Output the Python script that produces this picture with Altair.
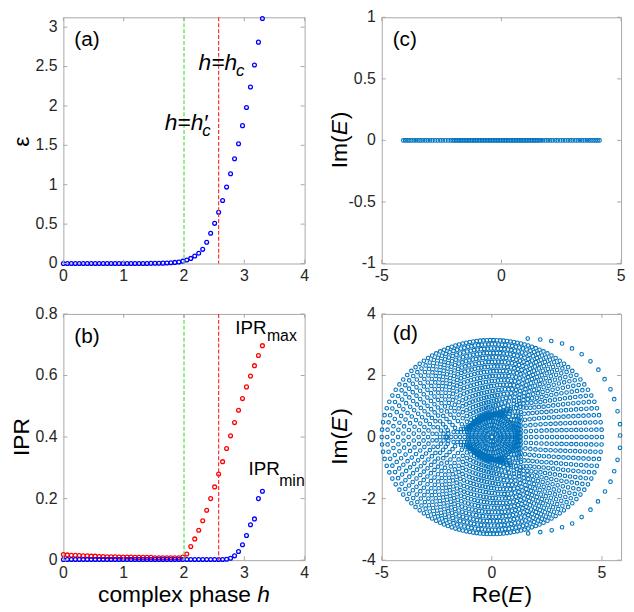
import altair as alt
import numpy as np
import pandas as pd

FONT = "Liberation Sans"
GRAY = "#a8a8a8"
LABEL = "#262626"
BLUE = "#0000ff"
RED = "#ff0000"
MBLUE = "#0072bd"
GREEN_LINE = "#55dd44"
RED_LINE = "#ff3030"

# ---------------- data ----------------
h = [0.0, 0.066, 0.132, 0.198, 0.264, 0.33, 0.396, 0.462, 0.528, 0.594,
     0.66, 0.726, 0.792, 0.858, 0.924, 0.99, 1.056, 1.122, 1.188, 1.254,
     1.32, 1.386, 1.452, 1.518, 1.584, 1.65, 1.716, 1.782, 1.848, 1.914,
     1.98, 2.046, 2.112, 2.178, 2.244, 2.31, 2.376, 2.442, 2.508, 2.574,
     2.64, 2.706, 2.772, 2.838, 2.904, 2.97, 3.036, 3.102, 3.168, 3.234, 3.3]

eps = [0.0, 0.0, 0.0, 0.0, 0.0, 0.0, 0.0, 0.0, 0.0, 0.0,
       0.0, 0.0, 0.0, 0.0, 0.0, 0.0, 0.0, 0.0, 0.0, 0.0,
       0.0, 0.001, 0.002, 0.003, 0.004, 0.005, 0.007, 0.01, 0.014, 0.02,
       0.03, 0.045, 0.065, 0.095, 0.13, 0.18, 0.27, 0.385, 0.51, 0.65,
       0.80, 0.97, 1.14, 1.33, 1.52, 1.75, 1.98, 2.24, 2.52, 2.81, 3.11]

ipr_max = [0.018, 0.017, 0.016, 0.016, 0.015, 0.014, 0.014, 0.013, 0.013, 0.012,
           0.012, 0.011, 0.011, 0.011, 0.010, 0.010, 0.010, 0.010, 0.009, 0.009,
           0.009, 0.009, 0.009, 0.008, 0.008, 0.008, 0.008, 0.008, 0.008, 0.008,
           0.010, 0.020, 0.044, 0.069, 0.097, 0.128, 0.162, 0.200, 0.238, 0.280,
           0.320, 0.363, 0.404, 0.447, 0.487, 0.525, 0.563, 0.598, 0.632, 0.665, 0.697]

ipr_min = [0.002, 0.002, 0.002, 0.002, 0.002, 0.002, 0.002, 0.002, 0.002, 0.002,
           0.002, 0.002, 0.002, 0.002, 0.002, 0.002, 0.002, 0.002, 0.002, 0.002,
           0.002, 0.002, 0.002, 0.002, 0.002, 0.002, 0.002, 0.002, 0.002, 0.002,
           0.002, 0.002, 0.002, 0.002, 0.002, 0.002, 0.002, 0.002, 0.002, 0.002,
           0.002, 0.003, 0.006, 0.014, 0.028, 0.050, 0.080, 0.115, 0.134, 0.200, 0.224]

h_c_prime = [2.0]
h_c = [2.574]

# panel (c): real spectrum (Im = 0)
re_c = [-4.10, -4.02, -3.93, -3.85, -3.76, -3.66, -3.57, -3.47, -3.38, -3.28,
        -3.18, -3.08, -2.98, -2.88, -2.77, -2.66, -2.55, -2.45, -2.34, -2.23,
        -2.12, -2.04, -1.97, -1.90, -1.83, -1.76, -1.70, -1.63, -1.56, -1.49,
        -1.42, -1.36, -1.29, -1.22, -1.15, -1.08, -1.02, -0.95, -0.88, -0.81,
        -0.75, -0.68, -0.61, -0.54, -0.48, -0.41, -0.34, -0.27, -0.20, -0.14,
        -0.07, 0.00, 0.07, 0.14, 0.20, 0.27, 0.34, 0.41, 0.48, 0.54,
        0.61, 0.68, 0.75, 0.81, 0.88, 0.95, 1.02, 1.08, 1.15, 1.22,
        1.29, 1.36, 1.42, 1.49, 1.56, 1.65, 1.74, 1.84, 1.94, 2.04,
        2.14, 2.25, 2.35, 2.46, 2.57, 2.67, 2.78, 2.88, 2.98, 3.09,
        3.19, 3.29, 3.38, 3.48, 3.58, 3.67, 3.76, 3.85, 3.94, 4.02, 4.10]
im_c = [0.0] * len(re_c)

# panel (d): complex spectrum, described as rings
core_rx, core_ry = 1.04, 0.72            # inner circular core
tri_vx = [-2.24, 1.31, 1.31]             # triangular boundary vertices
tri_vy = [0.0, 1.09, -1.09]
ell_rx, ell_ry = 5.0, 3.15               # outer elliptic boundary
core_frac = [0.0, 0.17, 0.36, 0.54, 0.71, 0.88, 1.03]
core_n = [1, 10, 22, 32, 42, 52, 62]
tri_frac = [0.2, 0.4, 0.6, 0.8, 1.0]
tri_n = [44, 50, 56, 62, 68]
out_frac = [0.0625, 0.125, 0.1875, 0.25, 0.3125, 0.375, 0.4375, 0.5,
            0.5625, 0.625, 0.6875, 0.75, 0.8125, 0.875, 0.9375, 1.0]
out_n = [53, 58, 63, 68, 73, 79, 84, 89, 94, 99, 104, 109, 114, 119, 124, 130]
arc_x = [1.63, 2.20, 2.70, 3.19, 3.64, 4.08, 4.48, 4.84, 5.12, 5.39, 5.56, 5.71, 5.82, 5.83,
         5.82, 5.71, 5.56, 5.39, 5.14, 4.82, 4.48, 4.08, 3.65, 3.19, 2.72, 2.20, 1.65]
arc_y = [3.20, 3.17, 3.12, 3.04, 2.88, 2.69, 2.46, 2.19, 1.88, 1.55, 1.23, 0.84, 0.42, 0.05,
         -0.35, -0.74, -1.11, -1.45, -1.77, -2.09, -2.36, -2.60, -2.81, -2.93, -3.03, -3.09, -3.13]

# tick values
xt_ab = [0, 1, 2, 3, 4]
yt_a = [0, 0.5, 1, 1.5, 2, 2.5, 3]
yt_b = [0, 0.2, 0.4, 0.6, 0.8]
xt_cd = [-5, 0, 5]
yt_c = [-1, -0.5, 0, 0.5, 1]
yt_d = [-4, -2, 0, 2, 4]


# ---------------- build ring points for (d) ----------------
def ell_r(th, a, b):
    return 1.0 / np.sqrt((np.cos(th) / a) ** 2 + (np.sin(th) / b) ** 2)


def tri_r(th):
    d0, d1 = np.cos(th), np.sin(th)
    best = np.full(len(th), np.inf)
    for k in range(3):
        p0, p1 = tri_vx[k], tri_vy[k]
        e0 = tri_vx[(k + 1) % 3] - p0
        e1 = tri_vy[(k + 1) % 3] - p1
        den = -d0 * e1 + d1 * e0
        with np.errstate(divide="ignore", invalid="ignore"):
            t = (-p0 * e1 + e0 * p1) / den
            s = (d0 * p1 - d1 * p0) / den
        ok = (t > 0) & (s >= -1e-9) & (s <= 1 + 1e-9)
        best = np.where(ok & (t < best), t, best)
    return best


TH = np.linspace(0, 2 * np.pi, 2048, endpoint=False)
RT = tri_r(TH)


def tri_smooth(th, sigma):
    if sigma <= 0:
        return np.interp(th, TH, RT, period=2 * np.pi)
    d = np.minimum(TH, 2 * np.pi - TH)
    k = np.exp(-0.5 * (d / sigma) ** 2)
    k /= k.sum()
    rs = np.real(np.fft.ifft(np.fft.fft(RT) * np.fft.fft(k)))
    return np.interp(th, TH, rs, period=2 * np.pi)


dxs, dys = [], []
for f, n in zip(core_frac, core_n):
    th = np.linspace(0, 2 * np.pi, n, endpoint=False)
    dxs += list(f * core_rx * np.cos(th))
    dys += list(f * core_ry * np.sin(th))
for u, n in zip(tri_frac, tri_n):
    th = np.linspace(0, 2 * np.pi, n, endpoint=False)
    r = (1 - u) * ell_r(th, core_rx, core_ry) + u * tri_smooth(th, 0.04)
    dxs += list(r * np.cos(th))
    dys += list(r * np.sin(th))
for t, n in zip(out_frac, out_n):
    th = np.linspace(0, 2 * np.pi, n, endpoint=False)
    r = (1 - t) * tri_smooth(th, 0.04 + 0.9 * t) + t * ell_r(th, ell_rx, ell_ry)
    dxs += list(r * np.cos(th))
    dys += list(r * np.sin(th))
dxs += arc_x
dys += arc_y

# ---------------- helpers ----------------
WA, HA = 244, 249
WC = 242

CW = {'I': 278, 'm': 833, '(': 333, ')': 333, 'E': 667, 'R': 722, 'e': 556, 'P': 667,
      'c': 500, 'o': 556, 'p': 556, 'l': 222, 'x': 500, ' ': 278, 'h': 556, 'a': 556, 's': 500}


def tw(s, size):
    return sum(CW.get(ch, 556) for ch in s) / 1000.0 * size


TSIZE = 23


def ytitle(pieces, H, off=30, size=TSIZE):
    total = sum(tw(t, size) for t, _ in pieces)
    pos = H / 2 + total / 2
    out = []
    for t, it in pieces:
        out.append(
            alt.Chart(pd.DataFrame({"t": [t]})).mark_text(
                angle=270, align="left", baseline="bottom", font=FONT, fontSize=size,
                fontStyle="italic" if it else "normal", color="black"
            ).encode(text="t:N", x=alt.value(-off), y=alt.value(pos))
        )
        pos -= tw(t, size) + (1 if it else 0)
    return out


def xtitle(pieces, W, H, off=24, size=TSIZE):
    total = sum(tw(t, size) for t, _ in pieces)
    pos = W / 2 - total / 2
    out = []
    for t, it in pieces:
        out.append(
            alt.Chart(pd.DataFrame({"t": [t]})).mark_text(
                align="left", baseline="top", font=FONT, fontSize=size,
                fontStyle="italic" if it else "normal", color="black"
            ).encode(text="t:N", x=alt.value(pos), y=alt.value(H + off))
        )
        pos += tw(t, size) + (1 if it else 0)
    return out


def fmt(v):
    return "%g" % v


def frame_ticks(xt, yt, xs, ys, W, H, L=4):
    dfx = pd.DataFrame({"v": xt, "t": [fmt(v) for v in xt]})
    dfy = pd.DataFrame({"v": yt, "t": [fmt(v) for v in yt]})
    kw = dict(color=GRAY, strokeWidth=1)
    lab = dict(font=FONT, fontSize=16, color=LABEL)
    return [
        alt.Chart(dfx).mark_rule(**kw).encode(x=alt.X("v:Q", scale=xs, axis=None), y=alt.value(H), y2=alt.value(H - L)),
        alt.Chart(dfx).mark_rule(**kw).encode(x=alt.X("v:Q", scale=xs, axis=None), y=alt.value(0), y2=alt.value(L)),
        alt.Chart(dfy).mark_rule(**kw).encode(y=alt.Y("v:Q", scale=ys, axis=None), x=alt.value(0), x2=alt.value(L)),
        alt.Chart(dfy).mark_rule(**kw).encode(y=alt.Y("v:Q", scale=ys, axis=None), x=alt.value(W), x2=alt.value(W - L)),
        alt.Chart(dfx).mark_text(align="center", baseline="top", **lab).encode(
            x=alt.X("v:Q", scale=xs, axis=None), y=alt.value(H + 5), text="t:N"),
        alt.Chart(dfy).mark_text(align="right", baseline="middle", **lab).encode(
            y=alt.Y("v:Q", scale=ys, axis=None), x=alt.value(-6), text="t:N"),
    ]


def panel_label(t, y=29):
    return alt.Chart(pd.DataFrame({"t": [t]})).mark_text(
        align="left", baseline="alphabetic", font=FONT, fontSize=21, color="black"
    ).encode(text="t:N", x=alt.value(11), y=alt.value(y))


def vline(xv, color, xs):
    return alt.Chart(pd.DataFrame({"x": xv})).mark_rule(
        color=color, strokeWidth=1.2, strokeDash=[4, 2]
    ).encode(x=alt.X("x:Q", scale=xs, axis=None))


def note(xv, yv, t, xs, ys, size, italic=False, dx=0, dy=0):
    return alt.Chart(pd.DataFrame({"x": [xv], "y": [yv], "t": [t]})).mark_text(
        align="left", baseline="alphabetic", font=FONT, fontSize=size, dx=dx, dy=dy,
        fontStyle="italic" if italic else "normal", color="black"
    ).encode(x=alt.X("x:Q", scale=xs, axis=None), y=alt.Y("y:Q", scale=ys, axis=None), text="t:N")


pt = dict(shape="circle", filled=False, opacity=1)

# ---------------- panel (a) ----------------
xs_ab = alt.Scale(domain=[0, 4], nice=False, zero=False)
ys_a = alt.Scale(domain=[0, 3.125], nice=False, zero=False)
df_a = pd.DataFrame({"h": h, "eps": eps})
pa_pts = alt.Chart(df_a).mark_point(color=BLUE, size=15, strokeWidth=1.3, **pt).encode(
    x=alt.X("h:Q", scale=xs_ab, axis=None),
    y=alt.Y("eps:Q", scale=ys_a, axis=None),
)
pa = alt.layer(
    pa_pts, vline(h_c_prime, GREEN_LINE, xs_ab), vline(h_c, RED_LINE, xs_ab),
    note(2.24, 2.46, "h=h", xs_ab, ys_a, 23, True),
    note(2.24, 2.46, "c", xs_ab, ys_a, 17, True, dx=38, dy=6),
    note(1.68, 1.69, "h=h\u2032", xs_ab, ys_a, 23, True),
    note(1.68, 1.69, "c", xs_ab, ys_a, 17, True, dx=38, dy=6),
    panel_label("(a)"),
    *frame_ticks(xt_ab, yt_a, xs_ab, ys_a, WA, HA),
    *ytitle([("\u03b5", False)], HA),
).properties(width=WA, height=HA)

# ---------------- panel (b) ----------------
ys_b = alt.Scale(domain=[0, 0.8], nice=False, zero=False)
df_b = pd.DataFrame({"h": h, "ipr_max": ipr_max, "ipr_min": ipr_min})
pb_max = alt.Chart(df_b).mark_point(color=RED, size=15, strokeWidth=1.3, **pt).encode(
    x=alt.X("h:Q", scale=xs_ab, axis=None),
    y=alt.Y("ipr_max:Q", scale=ys_b, axis=None),
)
pb_min = alt.Chart(df_b).mark_point(color=BLUE, size=15, strokeWidth=1.3, **pt).encode(
    x=alt.X("h:Q", scale=xs_ab, axis=None),
    y=alt.Y("ipr_min:Q", scale=ys_b, axis=None),
)
pb = alt.layer(
    pb_max, pb_min, vline(h_c_prime, GREEN_LINE, xs_ab), vline(h_c, RED_LINE, xs_ab),
    note(2.85, 0.736, "IPR", xs_ab, ys_b, 19),
    note(2.85, 0.736, "max", xs_ab, ys_b, 16, dx=32, dy=7),
    note(3.07, 0.277, "IPR", xs_ab, ys_b, 19),
    note(3.07, 0.277, "min", xs_ab, ys_b, 16, dx=31, dy=11),
    panel_label("(b)"),
    *frame_ticks(xt_ab, yt_b, xs_ab, ys_b, WA, HA),
    *ytitle([("IPR", False)], HA),
    *xtitle([("complex phase ", False), ("h", True)], WA, HA),
).properties(width=WA, height=HA)

# ---------------- panel (c) ----------------
xs_c = alt.Scale(domain=[-5, 5], nice=False, zero=False)
ys_c = alt.Scale(domain=[-1, 1], nice=False, zero=False)
df_c = pd.DataFrame({"re": re_c, "im": im_c})
pc_pts = alt.Chart(df_c).mark_point(color=MBLUE, size=13, strokeWidth=1.1, **pt).encode(
    x=alt.X("re:Q", scale=xs_c, axis=None),
    y=alt.Y("im:Q", scale=ys_c, axis=None),
)
pc = alt.layer(
    pc_pts, panel_label("(c)"),
    *frame_ticks(xt_cd, yt_c, xs_c, ys_c, WC, HA),
    *ytitle([("Im(", False), ("E", True), (")", False)], HA),
).properties(width=WC, height=HA)

# ---------------- panel (d) ----------------
xs_d = alt.Scale(domain=[-5, 5.87], nice=False, zero=False)
ys_d = alt.Scale(domain=[-4, 4], nice=False, zero=False)
df_d = pd.DataFrame({"re": dxs, "im": dys})
pd_pts = alt.Chart(df_d).mark_point(color=MBLUE, size=13, strokeWidth=1.1, **pt).encode(
    x=alt.X("re:Q", scale=xs_d, axis=None),
    y=alt.Y("im:Q", scale=ys_d, axis=None),
)
pdd = alt.layer(
    pd_pts, panel_label("(d)", 26),
    *frame_ticks(xt_cd, yt_d, xs_d, ys_d, WC, HA),
    *ytitle([("Im(", False), ("E", True), (")", False)], HA),
    *xtitle([("Re(", False), ("E", True), (")", False)], WC, HA),
).properties(width=WC, height=HA)

chart = alt.concat(pa, pc, pb, pdd, columns=2, spacing={"row": 51, "column": 78},
                   bounds="flush").properties(
    padding={"left": 2, "top": -3, "right": 0, "bottom": 0}, background="white"
).configure_view(stroke=GRAY, strokeWidth=1)

chart.save("out.html", embed_options={"renderer": "svg", "actions": False})
